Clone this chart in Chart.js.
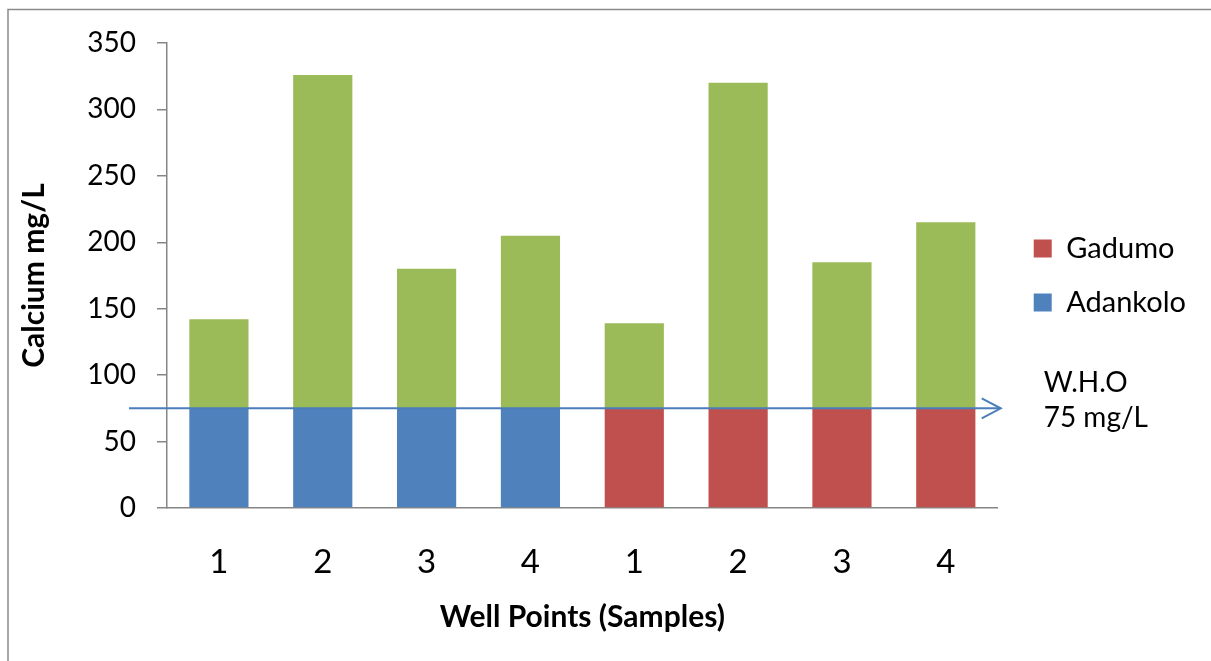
<!DOCTYPE html>
<html>
<head>
<meta charset="utf-8">
<script src="https://cdn.jsdelivr.net/npm/chart.js@4/dist/chart.umd.min.js"></script>
<style>
  html, body { margin: 0; padding: 0; background: #ffffff; }
  #wrap { width: 1211px; height: 661px; }
</style>
</head>
<body>
<div id="wrap"><canvas id="calcium" width="1211" height="661"></canvas></div>
<script>
// Well sampling points (Adankolo wells 1-4, then Gadumo wells 1-4)
const wells = ['1', '2', '3', '4', '1', '2', '3', '4'];

// Calcium up to the W.H.O guideline level, per community
const adankoloBase = [75, 75, 75, 75, null, null, null, null];
const gadumoBase = [null, null, null, null, 75, 75, 75, 75];

// Calcium measured above the guideline level (mg/L)
const aboveLimit = [67, 251, 105, 130, 64, 245, 110, 140];

// Axis range and W.H.O guideline
const yMax = 350;
const yStep = 50;
const whoLimit = 75;
const whoLabel = ['W.H.O', '75 mg/L'];

const FONT = "Lato, 'Open Sans', 'Liberation Sans', sans-serif";
const AXIS_GREY = '#868686';

// Outer chart frame (only top and left edges fall inside the canvas)
const framePlugin = {
  id: 'frame',
  beforeDraw(chart) {
    const ctx = chart.ctx;
    ctx.save();
    ctx.fillStyle = '#ffffff';
    ctx.fillRect(0, 0, chart.width, chart.height);
    ctx.strokeStyle = '#8a8a8a';
    ctx.lineWidth = 1.5;
    ctx.beginPath();
    ctx.moveTo(8, chart.height);
    ctx.lineTo(8, 9.5);
    ctx.lineTo(chart.width, 9.5);
    ctx.stroke();
    ctx.restore();
  }
};

// Guideline arrow across the plot, with its caption at the right
const guidelinePlugin = {
  id: 'guideline',
  afterDatasetsDraw(chart) {
    const ctx = chart.ctx;
    const area = chart.chartArea;
    const y = chart.scales.y.getPixelForValue(whoLimit);
    const x0 = area.left - 38;
    const x1 = area.right + 3;
    ctx.save();
    ctx.strokeStyle = '#4a7ebb';
    ctx.lineWidth = 2;
    ctx.beginPath();
    ctx.moveTo(x0, y);
    ctx.lineTo(x1, y);
    ctx.stroke();
    ctx.beginPath();
    ctx.moveTo(x1 - 19, y - 10);
    ctx.lineTo(x1, y);
    ctx.lineTo(x1 - 19, y + 10);
    ctx.stroke();
    ctx.fillStyle = '#000000';
    ctx.font = '28px ' + FONT;
    ctx.textAlign = 'left';
    ctx.textBaseline = 'middle';
    ctx.fillText(whoLabel[0], area.right + 46, y - 25);
    ctx.fillText(whoLabel[1], area.right + 46, y + 10);
    ctx.restore();
  }
};

new Chart(document.getElementById('calcium'), {
  type: 'bar',
  data: {
    labels: wells,
    datasets: [
      {
        label: 'Gadumo',
        data: gadumoBase,
        backgroundColor: '#c0504d',
        xAxisID: 'x',
        yAxisID: 'y'
      },
      {
        label: 'Adankolo',
        data: adankoloBase,
        backgroundColor: '#4f81bd',
        xAxisID: 'x',
        yAxisID: 'y'
      },
      {
        label: 'Above guideline',
        data: aboveLimit,
        backgroundColor: '#9bbb59',
        xAxisID: 'x',
        yAxisID: 'y'
      }
    ]
  },
  options: {
    responsive: false,
    animation: false,
    events: [],
    datasets: {
      bar: { barPercentage: 0.57, categoryPercentage: 1.0 }
    },
    layout: { padding: { left: 0, top: 43, right: 15, bottom: 0 } },
    plugins: {
      tooltip: { enabled: false },
      legend: {
        position: 'right',
        fullSize: false,
        align: 'center',
        labels: {
          filter: item => item.datasetIndex !== 2,
          color: '#000000',
          font: { family: FONT, size: 29 },
          boxWidth: 18,
          boxHeight: 18,
          padding: 25
        }
      }
    },
    scales: {
      x: {
        stacked: true,
        grid: { display: false, drawTicks: false },
        border: { display: true, color: AXIS_GREY, width: 1.5 },
        ticks: {
          color: '#000000',
          font: { family: FONT, size: 33 },
          padding: 35
        },
        title: {
          display: true,
          text: 'Well Points (Samples)',
          color: '#000000',
          font: { family: FONT, size: 30, weight: 'bold' },
          padding: { top: 26, bottom: 26 }
        },
        afterFit(scale) { scale.height = 153; }
      },
      y: {
        stacked: true,
        min: 0,
        max: yMax,
        grid: {
          drawOnChartArea: false,
          drawTicks: true,
          tickLength: 10,
          color: AXIS_GREY,
          lineWidth: 1.5
        },
        border: { display: true, color: AXIS_GREY, width: 1.5 },
        ticks: {
          stepSize: yStep,
          color: '#000000',
          font: { family: FONT, size: 28 },
          padding: 21
        },
        title: {
          display: true,
          text: 'Calcium mg/L',
          color: '#000000',
          font: { family: FONT, size: 30, weight: 'bold' },
          padding: { top: 16, bottom: 16 }
        },
        afterFit(scale) { scale.width = 167; }
      },
      spacer: {
        type: 'linear',
        position: 'right',
        display: true,
        ticks: { display: false },
        grid: { display: false, drawTicks: false },
        border: { display: false },
        afterFit(scale) { scale.width = 11; }
      }
    }
  },
  plugins: [framePlugin, guidelinePlugin]
});
</script>
</body>
</html>
